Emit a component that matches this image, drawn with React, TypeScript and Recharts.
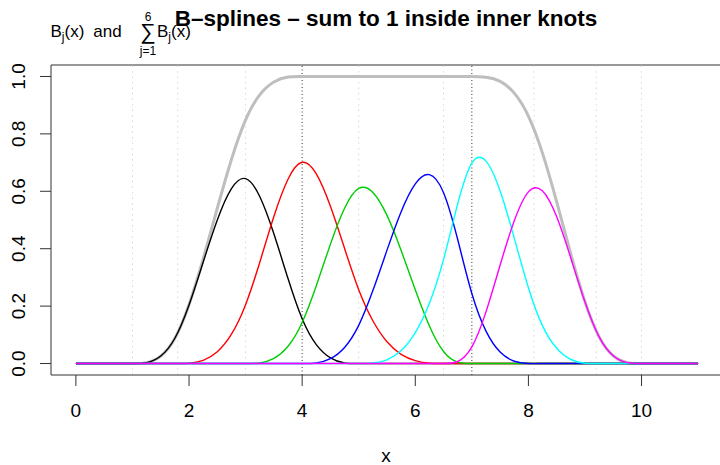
import { LineChart, Line, XAxis, YAxis, ReferenceLine } from 'recharts';

// x grid (step 0.25) and the six cubic B-spline basis values
const xs = [
  0, 0.25, 0.5, 0.75, 1, 1.25, 1.5, 1.75, 2, 2.25, 2.5, 2.75, 3, 3.25, 3.5, 3.75,
  4, 4.25, 4.5, 4.75, 5, 5.25, 5.5, 5.75, 6, 6.25, 6.5, 6.75, 7, 7.25, 7.5, 7.75,
  8, 8.25, 8.5, 8.75, 9, 9.25, 9.5, 9.75, 10, 10.25, 10.5, 10.75, 11,
];

const b1 = [
  0, 0, 0, 0, 0, 0.003, 0.026, 0.088, 0.204, 0.353, 0.5, 0.609, 0.644, 0.582, 0.452, 0.296,
  0.156, 0.066, 0.02, 0.002, 0, 0, 0, 0, 0, 0, 0, 0, 0, 0, 0, 0,
  0, 0, 0, 0, 0, 0, 0, 0, 0, 0, 0, 0, 0,
];
const b2 = [
  0, 0, 0, 0, 0, 0, 0, 0, 0.001, 0.011, 0.041, 0.102, 0.205, 0.352, 0.512, 0.642,
  0.701, 0.661, 0.548, 0.401, 0.257, 0.149, 0.076, 0.032, 0.01, 0.001, 0, 0, 0, 0, 0, 0,
  0, 0, 0, 0, 0, 0, 0, 0, 0, 0, 0, 0, 0,
];
const b3 = [
  0, 0, 0, 0, 0, 0, 0, 0, 0, 0, 0, 0, 0, 0.002, 0.018, 0.06,
  0.143, 0.271, 0.416, 0.541, 0.61, 0.596, 0.516, 0.394, 0.257, 0.131, 0.042, 0.005, 0, 0, 0, 0,
  0, 0, 0, 0, 0, 0, 0, 0, 0, 0, 0, 0, 0,
];
const b4 = [
  0, 0, 0, 0, 0, 0, 0, 0, 0, 0, 0, 0, 0, 0, 0, 0,
  0, 0.002, 0.017, 0.056, 0.133, 0.254, 0.395, 0.529, 0.626, 0.658, 0.595, 0.432, 0.244, 0.113, 0.04, 0.008,
  0, 0, 0, 0, 0, 0, 0, 0, 0, 0, 0, 0, 0,
];
const b5 = [
  0, 0, 0, 0, 0, 0, 0, 0, 0, 0, 0, 0, 0, 0, 0, 0,
  0, 0, 0, 0, 0, 0.002, 0.013, 0.045, 0.108, 0.21, 0.363, 0.556, 0.698, 0.705, 0.601, 0.437,
  0.264, 0.131, 0.053, 0.014, 0.001, 0, 0, 0, 0, 0, 0, 0, 0,
];
const b6 = [
  0, 0, 0, 0, 0, 0, 0, 0, 0, 0, 0, 0, 0, 0, 0, 0,
  0, 0, 0, 0, 0, 0, 0, 0, 0, 0, 0, 0.007, 0.058, 0.18, 0.343, 0.497,
  0.598, 0.601, 0.511, 0.367, 0.214, 0.093, 0.027, 0.003, 0, 0, 0, 0, 0,
];
const sumB = [
  0, 0, 0, 0, 0, 0.003, 0.026, 0.088, 0.205, 0.364, 0.541, 0.711, 0.849, 0.936, 0.981, 0.998,
  1, 1, 1, 1, 1, 1, 1, 1, 1, 1, 1, 1, 1, 0.997, 0.983, 0.942,
  0.862, 0.732, 0.563, 0.381, 0.215, 0.093, 0.027, 0.003, 0, 0, 0, 0, 0,
];

const knots = [1, 1.8, 3, 5, 6.5, 8.1, 9.2, 10];
const innerKnots = [4, 7];
const xTicks = [0, 2, 4, 6, 8, 10];
const yTicks = [0, 0.2, 0.4, 0.6, 0.8, 1];
const basisKeys = ['b1', 'b2', 'b3', 'b4', 'b5', 'b6'];
const basisColors = ['#000000', '#FF0000', '#00CD00', '#0000FF', '#00FFFF', '#FF00FF'];

const xDomain = [-0.44, 11.44];
const yDomain = [-0.04, 1.04];

const rows = xs.map((x, i) => ({
  x,
  sum: sumB[i],
  b1: b1[i],
  b2: b2[i],
  b3: b3[i],
  b4: b4[i],
  b5: b5[i],
  b6: b6[i],
}));

const font = '"Liberation Sans", Arial, Helvetica, sans-serif';

function YTick({ x, y, payload }: any) {
  return (
    <text
      transform={`translate(${x}, ${y}) rotate(-90)`}
      textAnchor="middle"
      fontSize={19}
      fontFamily={font}
      fill="#000"
    >
      {Number(payload.value).toFixed(1)}
    </text>
  );
}

export default function App() {
  return (
    <div
      style={{
        position: 'absolute',
        left: 0,
        top: 0,
        width: 720,
        height: 465,
        overflow: 'hidden',
        background: '#fff',
      }}
    >
      <LineChart width={724} height={465} data={rows} margin={{ top: 65, right: 1, bottom: 0, left: 0 }}>
        <XAxis
          type="number"
          dataKey="x"
          domain={xDomain}
          ticks={xTicks}
          allowDataOverflow
          height={90}
          tickSize={11}
          tickMargin={18}
          axisLine={{ stroke: '#333' }}
          tickLine={{ stroke: '#333' }}
          tick={{ fontSize: 19, fill: '#000', fontFamily: font }}
        />
        <YAxis
          type="number"
          domain={yDomain}
          ticks={yTicks}
          allowDataOverflow
          width={51}
          tickSize={11}
          tickMargin={15}
          axisLine={{ stroke: '#333' }}
          tickLine={{ stroke: '#333' }}
          tick={<YTick />}
        />
        <ReferenceLine y={yDomain[1]} stroke="#333" />
        {knots.map((k) => (
          <ReferenceLine key={'k' + k} x={k} stroke="#D8D8D8" strokeDasharray="1.5 4" />
        ))}
        {innerKnots.map((k) => (
          <ReferenceLine key={'ik' + k} x={k} stroke="#333" strokeDasharray="1 2.5" />
        ))}
        <Line
          type="natural"
          dataKey="sum"
          stroke="#BEBEBE"
          strokeWidth={3}
          dot={false}
          activeDot={false}
          isAnimationActive={false}
        />
        {basisKeys.map((key, i) => (
          <Line
            key={key}
            type="natural"
            dataKey={key}
            stroke={basisColors[i]}
            strokeWidth={1.4}
            dot={false}
            activeDot={false}
            isAnimationActive={false}
          />
        ))}
      </LineChart>
      <svg
        width={720}
        height={465}
        style={{ position: 'absolute', left: 0, top: 0, pointerEvents: 'none' }}
        fontFamily={font}
      >
        <text x={386} y={26} textAnchor="middle" fontSize={22.5} fontWeight="bold" fill="#000">
          B–splines – sum to 1 inside inner knots
        </text>
        <text x={50.5} y={37} fontSize={17} fill="#000">
          B<tspan fontSize={12} dy={4}>j</tspan>
          <tspan dy={-4}>(x)</tspan>
          <tspan dx={9}>and</tspan>
        </text>
        <text x={148} y={21} textAnchor="middle" fontSize={12} fill="#000">6</text>
        <text x={148} y={39} textAnchor="middle" fontSize={22} fill="#000">∑</text>
        <text x={148} y={55} textAnchor="middle" fontSize={12} fill="#000">j=1</text>
        <text x={157} y={37} fontSize={17} fill="#000">
          B<tspan fontSize={12} dy={4}>j</tspan>
          <tspan dy={-4}>(x)</tspan>
        </text>
        <text x={386} y={462} textAnchor="middle" fontSize={19} fill="#000">x</text>
      </svg>
    </div>
  );
}
